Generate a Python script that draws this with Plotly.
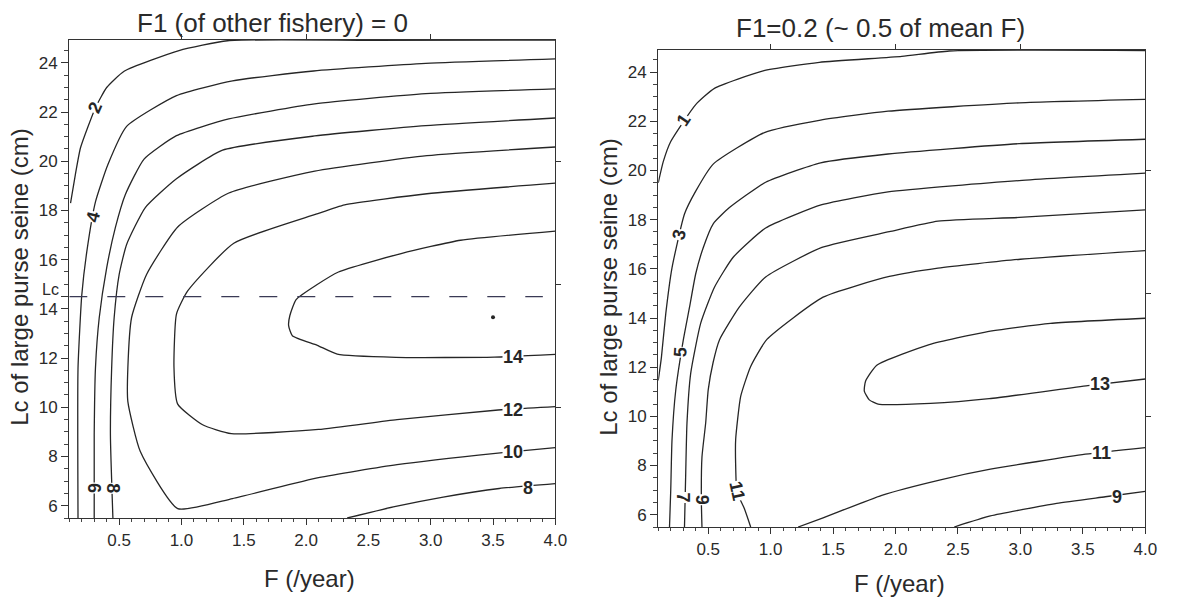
import plotly.graph_objects as go

W, H = 1184, 598

# ---------------- axis ranges / ticks ----------------
F_RANGE = [0.1, 4.0]
LC_RANGE_L = [5.5, 24.93]
LC_RANGE_R = [5.5, 24.9]
Y_TICKS = [6, 8, 10, 12, 14, 16, 18, 20, 22, 24]
LC_VALUE = 14.5
LC_LABEL_POS = 14.8
TOP_TICKS = [1, 2, 3]
RIGHT_TICKS = [10, 15, 20]

# ---------------- left panel: F1 = 0 ----------------
L2_F = [4.0, 2.5, 1.37, 0.98, 0.54, 0.40, 0.31, 0.19, 0.148, 0.11]
L2_LC = [24.93, 24.92, 24.9, 24.5, 23.66, 23.0, 22.18, 20.55, 19.44, 18.3]
L4_F = [4.0, 2.96, 2.06, 1.41, 0.96, 0.56, 0.41, 0.31, 0.24, 0.20, 0.17, 0.17]
L4_LC = [24.16, 23.98, 23.67, 23.27, 22.67, 21.42, 19.87, 18.35, 16.31, 14.55, 11.58, 5.5]
L6_F = [4.0, 2.96, 2.07, 1.38, 0.96, 0.70, 0.55, 0.47, 0.40, 0.34, 0.31, 0.30, 0.30]
L6_LC = [22.94, 22.75, 22.33, 21.72, 21.04, 20.09, 18.65, 17.31, 15.67, 13.63, 11.6, 8.87, 5.5]
L8_F = [4.0, 2.96, 2.07, 1.33, 0.96, 0.71, 0.56, 0.50, 0.46, 0.44, 0.43, 0.45]
L8_LC = [21.76, 21.45, 21.03, 20.45, 19.29, 18.12, 16.62, 15.39, 13.64, 11.6, 8.87, 5.5]
L10_F = [4.0, 2.97, 2.07, 1.38, 0.97, 0.72, 0.60, 0.57, 0.57, 0.67, 0.97, 1.41, 2.10, 2.73, 3.52, 4.0]
L10_LC = [20.58, 20.23, 19.6, 18.71, 17.33, 15.4, 13.65, 11.61, 10.23, 8.2, 5.88, 6.29, 7.14, 7.67, 8.13, 8.36]
L12_F = [4.0, 2.97, 2.31, 2.08, 1.42, 1.05, 0.96, 0.94, 0.97, 1.17, 1.40, 2.10, 2.73, 3.52, 4.0]
L12_LC = [19.11, 18.68, 18.23, 17.85, 16.67, 14.73, 13.79, 11.63, 10.13, 9.29, 8.93, 9.1, 9.5, 9.88, 10.03]
L14_F = [4.0, 3.24, 2.77, 2.26, 2.08, 1.92, 1.87, 1.86, 1.89, 2.09, 2.25, 2.72, 3.51, 4.0]
L14_LC = [17.16, 16.79, 16.26, 15.5, 14.96, 14.38, 13.73, 13.32, 12.91, 12.52, 12.16, 12.03, 12.04, 12.15]
L8B_F = [2.33, 2.7, 3.1, 3.55, 4.0]
L8B_LC = [5.5, 5.95, 6.35, 6.7, 6.9]
LC_LINE_F = [0.1, 3.9]
DOT_F = [3.5]
DOT_LC = [13.66]

# label: text, F, Lc, angle
L_LABELS = [("2", 0.31, 22.2, -66), ("4", 0.29, 17.74, -76), ("6", 0.30, 6.71, 90),
            ("8", 0.45, 6.71, 90), ("14", 3.66, 12.05, 0), ("12", 3.66, 9.89, 0),
            ("10", 3.66, 8.18, 0), ("8", 3.78, 6.72, 0)]

# ---------------- right panel: F1 = 0.2 ----------------
R1_F = [4.0, 2.43, 2.05, 1.39, 0.94, 0.55, 0.40, 0.20, 0.14, 0.1]
R1_LC = [24.88, 24.86, 24.64, 24.40, 24.05, 23.34, 22.68, 21.18, 20.36, 19.5]
R3_F = [4.0, 2.99, 1.94, 1.40, 0.95, 0.54, 0.40, 0.31, 0.21, 0.16, 0.125, 0.1]
R3_LC = [22.89, 22.75, 22.41, 22.05, 21.54, 20.26, 19.16, 18.23, 16.04, 14.17, 12.39, 11.46]
R5_F = [4.0, 2.99, 1.94, 1.40, 0.96, 0.67, 0.54, 0.46, 0.40, 0.35, 0.30, 0.24, 0.21, 0.20, 0.19]
R5_LC = [21.27, 21.09, 20.67, 20.31, 19.52, 18.49, 17.83, 16.86, 15.8, 14.43, 13.09, 11.06, 9.03, 7.01, 5.5]
R7_F = [4.0, 2.99, 1.94, 1.41, 0.96, 0.70, 0.55, 0.44, 0.36, 0.33, 0.32, 0.31]
R7_LC = [19.89, 19.59, 19.13, 18.61, 17.66, 16.47, 15.25, 13.79, 11.76, 9.73, 7.71, 5.5]
R9_F = [4.0, 2.99, 2.34, 1.95, 1.41, 0.96, 0.75, 0.59, 0.54, 0.50, 0.48, 0.45, 0.445, 0.45]
R9_LC = [18.4, 18.09, 17.94, 17.51, 16.87, 15.67, 14.45, 13.11, 12.21, 11.08, 9.74, 8.35, 6.61, 5.5]
R11_F = [4.0, 3.0, 2.34, 1.95, 1.42, 0.97, 0.84, 0.76, 0.72, 0.72, 0.73, 0.79, 0.84]
R11_LC = [16.74, 16.39, 16.03, 15.69, 14.85, 13.13, 12.03, 10.81, 9.07, 7.97, 6.93, 6.24, 5.5]
R11B_F = [1.22, 1.42, 1.89, 2.36, 2.76, 3.52, 4.0]
R11B_LC = [5.5, 5.87, 6.79, 7.42, 7.85, 8.46, 8.73]
R13_F = [4.0, 3.24, 2.72, 2.27, 1.85, 1.76, 1.75, 1.79, 1.86, 2.28, 2.75, 3.54, 4.0]
R13_LC = [13.99, 13.78, 13.43, 12.92, 12.08, 11.43, 11.03, 10.67, 10.5, 10.53, 10.72, 11.25, 11.52]
R9B_F = [2.47, 2.76, 3.29, 3.68, 4.0]
R9B_LC = [5.5, 5.95, 6.46, 6.73, 6.95]

R_LABELS = [("1", 0.30, 22.07, -56), ("3", 0.27, 17.41, -76), ("5", 0.28, 12.6, -86),
            ("7", 0.30, 6.69, 90), ("9", 0.45, 6.61, 90), ("11", 0.73, 6.95, 78),
            ("13", 3.64, 11.33, 0), ("11", 3.65, 8.5, 0), ("9", 3.77, 6.73, 0)]

L_CURVES = [(L2_F, L2_LC), (L4_F, L4_LC), (L6_F, L6_LC), (L8_F, L8_LC), (L10_F, L10_LC),
            (L12_F, L12_LC), (L14_F, L14_LC), (L8B_F, L8B_LC)]
R_CURVES = [(R1_F, R1_LC), (R3_F, R3_LC), (R5_F, R5_LC), (R7_F, R7_LC), (R9_F, R9_LC),
            (R11_F, R11_LC), (R11B_F, R11B_LC), (R13_F, R13_LC), (R9B_F, R9B_LC)]

INK = "#262626"
FONT = "Liberation Sans, Arial, sans-serif"

fig = go.Figure()

for fx, fy in L_CURVES:
    fig.add_trace(go.Scatter(x=fx, y=fy, mode="lines", xaxis="x", yaxis="y",
                             line=dict(color=INK, width=1.3, shape="spline", smoothing=0.5),
                             hoverinfo="skip", showlegend=False))
for fx, fy in R_CURVES:
    fig.add_trace(go.Scatter(x=fx, y=fy, mode="lines", xaxis="x2", yaxis="y2",
                             line=dict(color=INK, width=1.3, shape="spline", smoothing=0.5),
                             hoverinfo="skip", showlegend=False))

# Lc dashed reference line
fig.add_trace(go.Scatter(x=LC_LINE_F, y=[LC_VALUE, LC_VALUE], mode="lines", xaxis="x", yaxis="y",
                         line=dict(color="#3a3a55", width=1.4, dash="18px,20px"),
                         hoverinfo="skip", showlegend=False))
fig.add_trace(go.Scatter(x=DOT_F, y=DOT_LC, mode="markers", xaxis="x", yaxis="y",
                         marker=dict(color=INK, size=4), hoverinfo="skip", showlegend=False))

# invisible traces to activate overlay axes (top / right ticks)
fig.add_trace(go.Scatter(x=F_RANGE, y=LC_RANGE_L, mode="markers", xaxis="x3", yaxis="y3",
                         marker=dict(opacity=0), hoverinfo="skip", showlegend=False))
fig.add_trace(go.Scatter(x=F_RANGE, y=LC_RANGE_R, mode="markers", xaxis="x4", yaxis="y4",
                         marker=dict(opacity=0), hoverinfo="skip", showlegend=False))

dom_xl = [70 / W, 561 / W]
dom_yl = [1 - 518 / H, 1 - 40 / H]
dom_xr = [665 / W, 1157 / W]
dom_yr = [1 - 527 / H, 1 - 50 / H]

tickfont = dict(family=FONT, size=17, color="#2a2a2a")


def xax(domain, anchor):
    return dict(domain=domain, anchor=anchor, range=F_RANGE, showgrid=False, zeroline=False,
                showline=True, linecolor="#333", linewidth=1.2, mirror=True,
                tickmode="linear", tick0=0, dtick=0.5, tickformat=".1f",
                ticks="outside", ticklen=6, tickwidth=1.1, tickcolor="#333",
                minor=dict(tickmode="linear", tick0=0, dtick=0.1, ticks="outside",
                           ticklen=3, tickcolor="#444"),
                tickfont=tickfont)


def yax(domain, anchor, rng, with_lc):
    vals = list(Y_TICKS)
    texts = [str(v) for v in Y_TICKS]
    if with_lc:
        vals.append(LC_VALUE)
        texts.append("")
    return dict(domain=domain, anchor=anchor, range=rng, showgrid=False, zeroline=False,
                showline=True, linecolor="#333", linewidth=1.2, mirror=True,
                tickmode="array", tickvals=vals, ticktext=texts,
                ticks="outside", ticklen=7, tickwidth=1.1, tickcolor="#333",
                minor=dict(tickmode="linear", tick0=0, dtick=0.5, ticks="outside",
                           ticklen=4, tickcolor="#444"),
                tickfont=tickfont)


def top_ax(over, anchor):
    return dict(overlaying=over, side="top", anchor=anchor, range=F_RANGE, showgrid=False,
                zeroline=False, showline=False, tickmode="array", tickvals=TOP_TICKS,
                ticks="outside", ticklen=5, tickcolor="#333", showticklabels=False)


def right_ax(over, anchor, rng):
    return dict(overlaying=over, side="right", anchor=anchor, range=rng, showgrid=False,
                zeroline=False, showline=False, tickmode="array", tickvals=RIGHT_TICKS,
                ticks="outside", ticklen=5, tickcolor="#333", showticklabels=False)


label_font = dict(family=FONT, size=18, color=INK)
annotations = []
for txt, fx, fy, ang in L_LABELS:
    annotations.append(dict(x=fx, y=fy, xref="x", yref="y", text="<b>%s</b>" % txt,
                            showarrow=False, textangle=ang, bgcolor="white", borderpad=0,
                            xanchor="center", yanchor="middle", font=label_font))
for txt, fx, fy, ang in R_LABELS:
    annotations.append(dict(x=fx, y=fy, xref="x2", yref="y2", text="<b>%s</b>" % txt,
                            showarrow=False, textangle=ang, bgcolor="white", borderpad=0,
                            xanchor="center", yanchor="middle", font=label_font))

# "Lc" tick label on left axis
annotations.append(dict(x=-0.018, y=LC_LABEL_POS, xref="x domain", yref="y", text="Lc",
                        showarrow=False, xanchor="right", yanchor="middle",
                        font=dict(family=FONT, size=16, color="#2a2a2a")))

title_font = dict(family=FONT, size=26, color="#2a2a2a")
axis_font = dict(family=FONT, size=24, color="#2a2a2a")


def paper_text(x, y, text, font, angle=0):
    return dict(x=x / W, y=1 - y / H, xref="paper", yref="paper", text=text, showarrow=False,
                xanchor="center", yanchor="middle", textangle=angle, font=font)


annotations += [
    paper_text(275, 23, "F1 (of other fishery) = 0", title_font),
    paper_text(890, 28, "F1=0.2 (~ 0.5 of mean F)", title_font),
    paper_text(313, 578, "F (/year)", axis_font),
    paper_text(909, 583, "F (/year)", axis_font),
    paper_text(19, 277, "Lc of large purse seine (cm)", axis_font, -90),
    paper_text(614, 287, "Lc of large purse seine (cm)", axis_font, -90),
]

fig.update_layout(
    width=W, height=H, margin=dict(l=0, r=0, t=0, b=0),
    paper_bgcolor="white", plot_bgcolor="white", showlegend=False,
    xaxis=xax(dom_xl, "y"), yaxis=yax(dom_yl, "x", LC_RANGE_L, True),
    xaxis2=xax(dom_xr, "y2"), yaxis2=yax(dom_yr, "x2", LC_RANGE_R, False),
    xaxis3=top_ax("x", "y3"), yaxis3=right_ax("y", "x3", LC_RANGE_L),
    xaxis4=top_ax("x2", "y4"), yaxis4=right_ax("y2", "x4", LC_RANGE_R),
    annotations=annotations,
)

fig.write_html("out.html")
